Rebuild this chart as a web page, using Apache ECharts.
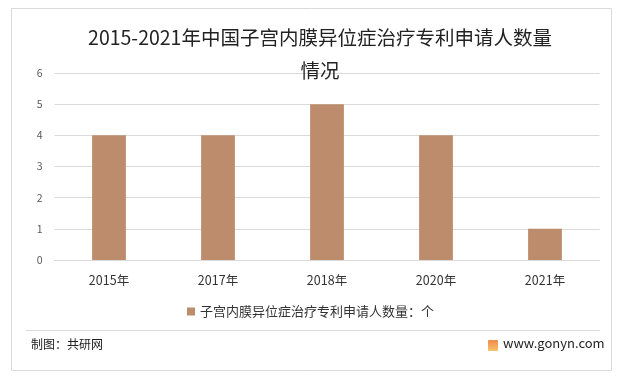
<!DOCTYPE html>
<html><head><meta charset="utf-8">
<script src="https://cdn.jsdelivr.net/npm/echarts@6/dist/echarts.min.js"></script>
<style>html,body{margin:0;padding:0;background:#fff}#c{width:621px;height:379px}</style>
</head><body><div id="c"></div>
<script>
var categories = ['2015年','2017年','2018年','2020年','2021年'];
var values = [4, 4, 5, 4, 1];
var seriesName = '子宫内膜异位症治疗专利申请人数量：个';
var titleText = '2015-2021年中国子宫内膜异位症治疗专利申请人数量\n情况';
var font = '"Noto Sans CJK SC", "Microsoft YaHei", sans-serif';
var chart = echarts.init(document.getElementById('c'));
chart.setOption({
  backgroundColor: '#fff',
  animation: false,
  title: {
    text: titleText, left: 320, textAlign: 'center', top: 21, padding: 0,
    textStyle: {fontFamily: font, fontSize: 19.5, fontWeight: 'normal', color: '#222', lineHeight: 33}
  },
  grid: {left: 54.5, right: 21.5, top: 73, bottom: 119, containLabel: false},
  xAxis: {
    type: 'category', data: categories,
    axisLine: {show: true, lineStyle: {color: '#d9d9d9'}},
    axisTick: {show: false},
    axisLabel: {fontFamily: font, fontSize: 12.5, color: '#333', margin: 14}
  },
  yAxis: {
    type: 'value', min: 0, max: 6, interval: 1,
    axisLine: {show: false}, axisTick: {show: false},
    splitLine: {lineStyle: {color: '#d9d9d9'}},
    axisLabel: {fontFamily: font, fontSize: 10.5, color: '#595959', margin: 12}
  },
  legend: {
    bottom: 56, left: 'center', itemWidth: 8, itemHeight: 8, itemGap: 4,
    textStyle: {fontFamily: font, fontSize: 13, color: '#333'},
    data: [{name: seriesName, icon: 'rect'}]
  },
  series: [{
    type: 'bar', name: seriesName, data: values, barWidth: '31%',
    itemStyle: {color: '#BC8C6C'}
  }],
  graphic: [
    {type: 'rect', shape: {x: 11.5, y: 8.5, width: 600, height: 362}, style: {fill: null, stroke: '#d9d9d9', lineWidth: 1}, silent: true},
    {type: 'line', shape: {x1: 26, y1: 330.5, x2: 600, y2: 330.5}, style: {stroke: '#d9d9d9', lineWidth: 1}},
    {type: 'text', left: 31, top: 338, style: {text: '制图：共研网', font: '12px ' + font, fill: '#222'}},
    {type: 'rect', shape: {x: 488, y: 340, width: 10, height: 11, r: 1},
      style: {fill: new echarts.graphic.LinearGradient(0, 0, 0, 1, [{offset: 0, color: '#F08A4B'}, {offset: 1, color: '#F6C26B'}])}},
    {type: 'text', left: 503, top: 337, style: {text: 'www.gonyn.com', font: '13px ' + font, fill: '#222'}}
  ]
});
</script></body></html>
